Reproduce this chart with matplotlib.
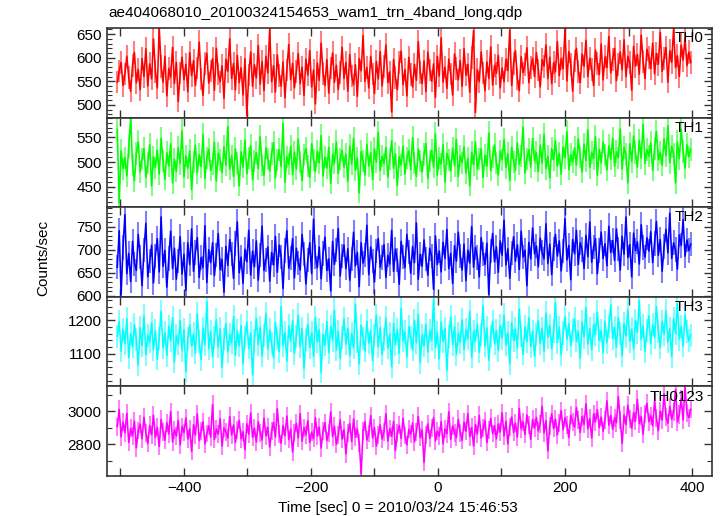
import numpy as np
import matplotlib
matplotlib.use("Agg")
import matplotlib.pyplot as plt
from matplotlib.ticker import MultipleLocator, FuncFormatter

plt.rcParams['font.family'] = ['Liberation Sans', 'DejaVu Sans']

title = "ae404068010_20100324154653_wam1_trn_4band_long.qdp"
xlabel = "Time [sec] 0 = 2010/03/24 15:46:53"
ylabel = "Counts/sec"
band_names = ["TH0", "TH1", "TH2", "TH3", "TH0123"]
band_colors = ["#ff0000", "#00ff00", "#0000ff", "#00ffff", "#ff00ff"]
t_start = -505.0
bin_size = 3.0

th0 = [
    548, 572, 590, 541, 566, 603, 558, 529, 584, 611, 547, 575, 532, 598, 560, 619, 540, 587, 555, 640,
    571, 536, 664, 582, 548, 603, 519, 577, 559, 622, 545, 590, 507, 568, 601, 553, 586, 528, 611, 562,
    594, 541, 578, 633, 555, 520, 587, 609, 546, 572, 598, 531, 620, 565, 549, 583, 514, 597, 571, 640,
    556, 588, 532, 605, 547, 579, 521, 598, 478, 563, 612, 539, 585, 557, 626, 544, 592, 530, 603, 568,
    661, 549, 583, 527, 606, 562, 540, 591, 515, 574, 628, 553, 588, 536, 571, 609, 545, 580, 520, 597,
    563, 615, 538, 574, 502, 589, 552, 631, 567, 541, 596, 525, 578, 610, 548, 584, 533, 569, 622, 556,
    590, 529, 607, 561, 543, 585, 518, 598, 572, 647, 550, 579, 536, 603, 566, 524, 592, 555, 613, 540,
    581, 627, 547, 570, 485, 596, 558, 532, 589, 614, 543, 575, 519, 601, 564, 538, 586, 552, 634, 569,
    545, 593, 528, 612, 574, 550, 587, 516, 603, 561, 642, 548, 580, 535, 597, 566, 521, 608, 577, 553,
    594, 539, 619, 563, 586, 527, 600, 658, 484, 575, 549, 612, 568, 530, 591, 556, 623, 542, 584, 567,
    605, 536, 578, 549, 597, 573, 659, 541, 588, 615, 555, 530, 602, 568, 585, 621, 547, 579, 598, 560,
    611, 574, 538, 596, 582, 627, 556, 601, 545, 589, 570, 634, 562, 598, 577, 662, 551, 613, 586, 529,
    593, 620, 571, 547, 608, 582, 637, 560, 599, 575, 541, 616, 588, 564, 629, 553, 602, 579, 645, 568,
    597, 620, 551, 585, 612, 574, 638, 560, 603, 589, 531, 624, 582, 607, 565, 648, 592, 556, 618, 600,
    577, 631, 566, 609, 586, 654, 571, 598, 622, 548, 615, 590, 663, 579, 604, 560, 627, 595, 641, 583, 612, 590,
]

th1 = [
    566, 418, 523, 487, 509, 472, 531, 589, 495, 462, 518, 541, 480, 507, 527, 469, 498, 535, 452, 511,
    489, 524, 476, 548, 503, 465, 519, 492, 537, 458, 506, 481, 529, 497, 563, 470, 512, 488, 523, 445,
    501, 534, 478, 515, 491, 556, 467, 509, 526, 483, 497, 540, 462, 518, 505, 479, 531, 494, 572, 486,
    513, 471, 527, 499, 452, 521, 490, 545, 476, 508, 533, 464, 502, 519, 487, 551, 495, 473, 529, 506,
    482, 517, 539, 468, 504, 525, 491, 578, 459, 511, 496, 532, 475, 520, 486, 547, 501, 463, 514, 528,
    493, 469, 537, 505, 481, 522, 499, 554, 472, 510, 488, 530, 457, 515, 498, 541, 477, 507, 524, 490,
    516, 461, 533, 496, 548, 484, 509, 438, 521, 502, 474, 536, 492, 519, 465, 527, 500, 560, 483, 512,
    497, 529, 470, 506, 543, 488, 517, 453, 511, 494, 532, 476, 508, 523, 485, 550, 499, 471, 526, 503,
    480, 515, 538, 467, 502, 524, 490, 557, 474, 509, 496, 535, 460, 518, 505, 482, 528, 493, 546, 471,
    513, 499, 531, 478, 508, 452, 520, 495, 541, 486, 506, 527, 469, 514, 492, 559, 483, 510, 535, 498,
    474, 522, 505, 546, 489, 517, 463, 530, 501, 484, 539, 496, 512, 571, 478, 507, 525, 490, 548, 503,
    519, 481, 534, 498, 556, 487, 512, 468, 527, 505, 543, 492, 518, 476, 531, 509, 562, 485, 515, 500,
    529, 494, 547, 511, 480, 536, 503, 565, 489, 520, 507, 552, 473, 526, 498, 541, 514, 484, 533, 506,
    548, 492, 521, 509, 567, 486, 530, 515, 458, 537, 501, 553, 519, 490, 544, 508, 576, 497, 525, 512,
    539, 483, 528, 562, 505, 520, 494, 547, 513, 574, 499, 532, 516, 458, 541, 507, 566, 522, 488, 535, 511, 526,
]

th2 = [
    662, 741, 603, 705, 776, 648, 692, 631, 718, 670, 655, 733, 684, 622, 699, 757, 641, 675, 710, 628,
    687, 724, 652, 771, 664, 698, 619, 681, 740, 659, 703, 636, 676, 728, 647, 690, 612, 715, 668, 745,
    653, 694, 726, 640, 683, 661, 752, 629, 700, 672, 715, 644, 689, 735, 657, 679, 608, 707, 666, 722,
    691, 638, 713, 760, 650, 684, 627, 701, 674, 742, 645, 697, 663, 719, 634, 688, 751, 655, 678, 706,
    632, 694, 667, 729, 651, 710, 685, 616, 698, 741, 660, 682, 724, 639, 703, 672, 656, 733, 690, 626,
    677, 715, 648, 766, 684, 661, 706, 637, 692, 727, 655, 680, 611, 718, 668, 699, 746, 643, 687, 710,
    659, 702, 634, 679, 738, 665, 694, 620, 715, 671, 689, 753, 646, 706, 675, 630, 697, 724, 662, 683,
    711, 640, 688, 669, 742, 653, 701, 677, 625, 718, 684, 661, 733, 695, 649, 707, 672, 758, 636, 690,
    664, 721, 679, 645, 703, 686, 614, 730, 668, 697, 652, 716, 681, 744, 659, 692, 627, 709, 675, 738,
    687, 656, 712, 633, 699, 671, 750, 662, 705, 683, 641, 726, 690, 668, 714, 603, 697, 735, 674, 706,
    651, 719, 688, 764, 667, 702, 638, 693, 728, 675, 711, 657, 740, 684, 699, 622, 716, 680, 747, 691,
    708, 663, 725, 694, 680, 756, 670, 712, 646, 701, 733, 686, 719, 654, 697, 767, 678, 709, 635, 722,
    691, 742, 668, 715, 700, 659, 731, 685, 760, 673, 706, 724, 648, 698, 738, 681, 713, 665, 751, 694,
    720, 677, 745, 702, 656, 729, 690, 771, 683, 711, 641, 736, 698, 717, 669, 754, 705, 684, 726, 697,
    739, 672, 714, 761, 688, 722, 653, 707, 744, 693, 779, 681, 715, 700, 658, 732, 709, 765, 686, 721, 698, 712,
]

th3 = [
    1152, 1196, 1108, 1173, 1131, 1204, 1089, 1160, 1121, 1187, 1143, 1067, 1178, 1125, 1213, 1098, 1156, 1135, 1191, 1112,
    1169, 1084, 1147, 1226, 1118, 1163, 1095, 1182, 1139, 1207, 1076, 1154, 1129, 1198, 1110, 1171, 1048, 1145, 1186, 1123,
    1160, 1102, 1219, 1137, 1083, 1176, 1127, 1255, 1115, 1166, 1092, 1149, 1201, 1120, 1174, 1061, 1142, 1189, 1106, 1158,
    1133, 1210, 1097, 1168, 1124, 1184, 1071, 1150, 1194, 1117, 1162, 1038, 1139, 1205, 1128, 1179, 1093, 1156, 1220, 1114,
    1171, 1130, 1088, 1193, 1146, 1107, 1240, 1125, 1164, 1079, 1183, 1138, 1199, 1101, 1153, 1215, 1122, 1175, 1057, 1144,
    1188, 1119, 1163, 1093, 1208, 1135, 1172, 1046, 1157, 1126, 1196, 1104, 1181, 1140, 1229, 1111, 1167, 1086, 1150, 1203,
    1129, 1176, 1095, 1161, 1118, 1247, 1136, 1070, 1185, 1147, 1109, 1197, 1132, 1168, 1080, 1155, 1214, 1121, 1178, 1099,
    1143, 1206, 1117, 1159, 1062, 1190, 1127, 1173, 1102, 1236, 1138, 1165, 1091, 1181, 1148, 1112, 1199, 1133, 1218, 1074,
    1156, 1124, 1187, 1106, 1170, 1141, 1262, 1119, 1164, 1085, 1195, 1137, 1176, 1051, 1152, 1209, 1128, 1181, 1098, 1160,
    1134, 1201, 1113, 1172, 1145, 1226, 1090, 1166, 1139, 1188, 1105, 1158, 1243, 1123, 1177, 1081, 1151, 1196, 1130, 1169,
    1110, 1184, 1147, 1215, 1126, 1163, 1070, 1192, 1140, 1174, 1117, 1233, 1154, 1099, 1180, 1136, 1207, 1122, 1167, 1093,
    1158, 1198, 1131, 1176, 1108, 1221, 1149, 1185, 1116, 1168, 1252, 1134, 1179, 1097, 1162, 1210, 1143, 1189, 1125, 1171,
    1203, 1138, 1166, 1087, 1194, 1150, 1237, 1129, 1175, 1112, 1186, 1157, 1224, 1140, 1169, 1104, 1197, 1133, 1181, 1245,
    1146, 1178, 1120, 1206, 1161, 1095, 1190, 1153, 1231, 1137, 1174, 1115, 1199, 1164, 1258, 1142, 1183, 1107, 1170, 1212,
    1131, 1187, 1149, 1240, 1168, 1119, 1196, 1158, 1227, 1135, 1176, 1092, 1205, 1161, 1249, 1144, 1181, 1123, 1215, 1167, 1139, 1156,
]

th0123 = [
    2908, 3012, 2846, 2935, 2871, 2988, 2812, 2897, 2853, 2941, 2780, 2884, 2922, 2835, 2963, 2869, 2806, 2915, 2858, 2976,
    2842, 2903, 2788, 2951, 2877, 2826, 2932, 2864, 2998, 2815, 2889, 2851, 2946, 2797, 2908, 2872, 2960, 2833, 2894, 2758,
    2919, 2856, 2985, 2824, 2881, 2937, 2803, 2866, 2912, 2845, 3041, 2829, 2893, 2862, 2954, 2790, 2901, 2876, 2838, 2969,
    2857, 2918, 2812, 2887, 2945, 2834, 2876, 2768, 2925, 2861, 2990, 2842, 2898, 2815, 2937, 2869, 2826, 2959, 2851, 2904,
    2784, 2880, 2933, 2845, 3016, 2863, 2807, 2914, 2852, 2971, 2829, 2892, 2755, 2868, 2927, 2840, 2986, 2819, 2901, 2858,
    2943, 2812, 2874, 2836, 2962, 2850, 2905, 2779, 2883, 2931, 2824, 2867, 2996, 2847, 2910, 2801, 2856, 2948, 2832, 2889,
    2743, 2871, 2925, 2818, 2954, 2845, 2893, 2808, 2622, 2881, 2937, 2826, 2866, 2974, 2839, 2902, 2790, 2859, 2918, 2833,
    2877, 2985, 2821, 2896, 2849, 2940, 2763, 2870, 2915, 2837, 2958, 2854, 2798, 2891, 2862, 2930, 2815, 2876, 2969, 2843,
    2887, 2692, 2858, 2924, 2836, 2899, 2961, 2822, 2880, 2849, 2938, 2804, 2893, 2865, 2997, 2831, 2912, 2870, 2842, 2951,
    2868, 2825, 2934, 2879, 2986, 2847, 2903, 2791, 2920, 2862, 2975, 2839, 2898, 2944, 2811, 2889, 2957, 2866, 2912, 2834,
    2923, 2876, 2992, 2851, 2940, 2803, 2907, 2965, 2872, 2929, 2845, 3018, 2894, 2937, 2860, 2978, 2915, 2831, 2951, 2898,
    2963, 2882, 2926, 3031, 2870, 2944, 2762, 2911, 2985, 2896, 2953, 2857, 2932, 3004, 2889, 2961, 2918, 2842, 2976, 2934,
    2905, 3022, 2946, 2873, 2968, 2921, 3045, 2894, 2957, 2838, 2983, 2937, 3010, 2902, 2966, 2879, 2949, 3063, 2916, 2975,
    2891, 2962, 2931, 3088, 2945, 2807, 2978, 2920, 3036, 2953, 2897, 2992, 2940, 3071, 2926, 2969, 2861, 2985, 3047, 2938,
    2974, 2912, 3059, 2959, 2883, 3002, 2947, 3105, 2965, 2928, 3028, 2952, 2996, 3131, 2937, 2981, 3074, 2948, 3148, 2990, 2962, 3012,
]

series = [th0, th1, th2, th3, th0123]
ylims = [(473, 663), (409, 590), (598, 792), (1004, 1269), (2610, 3150)]
ymajor = [50, 50, 50, 100, 200]
yminor = [10, 10, 10, 20, 100]
xlim = (-522, 431)

fig = plt.figure(figsize=(7.22, 5.16), dpi=100)
left, right = 106.5 / 722, 711.7 / 722
top, bottom = 1 - 28 / 516, 1 - 476 / 516
ph = (top - bottom) / 5

for k, (vals, name, col) in enumerate(zip(series, band_names, band_colors)):
    ax = fig.add_axes([left, top - (k + 1) * ph, right - left, ph])
    v = np.asarray(vals, dtype=float)
    t = t_start + bin_size * np.arange(len(v))
    err = np.sqrt(v)
    ax.vlines(t, v - err, v + err, colors=col, alpha=0.5, lw=1.5)
    ax.plot(t, v, color=col, lw=1.15)
    ax.set_xlim(*xlim)
    ax.set_ylim(*ylims[k])
    ax.xaxis.set_major_locator(MultipleLocator(100))
    ax.yaxis.set_major_locator(MultipleLocator(ymajor[k]))
    ax.yaxis.set_minor_locator(MultipleLocator(yminor[k]))
    ax.tick_params(which='both', direction='in', top=True, right=True, labelsize=11, color='#333333')
    ax.tick_params(which='major', length=6, width=1.0)
    ax.tick_params(which='minor', length=3.5, width=0.8)
    for s in ax.spines.values():
        s.set_linewidth(1.2)
        s.set_color('#333333')
    if k < 4:
        ax.set_xticklabels([])
    else:
        ax.xaxis.set_major_formatter(FuncFormatter(
            lambda x, p: (f"{int(round(x))}".replace('-', '\u2212')) if int(round(x)) % 200 == 0 else ""))
    ax.yaxis.set_major_formatter(FuncFormatter(lambda y, p: f"{int(round(y))}"))
    ax.text(0.987, 0.965, name, transform=ax.transAxes, ha='right', va='top', fontsize=11)

fig.text(108 / 722, 1 - 13 / 516, title, ha='left', va='center', fontsize=11)
fig.text(43 / 722, 1 - 258 / 516, ylabel, ha='center', va='center', rotation=90, fontsize=11)
fig.text(398 / 722, 1 - 508 / 516, xlabel, ha='center', va='center', fontsize=11)

fig.savefig("out.png", dpi=100)
